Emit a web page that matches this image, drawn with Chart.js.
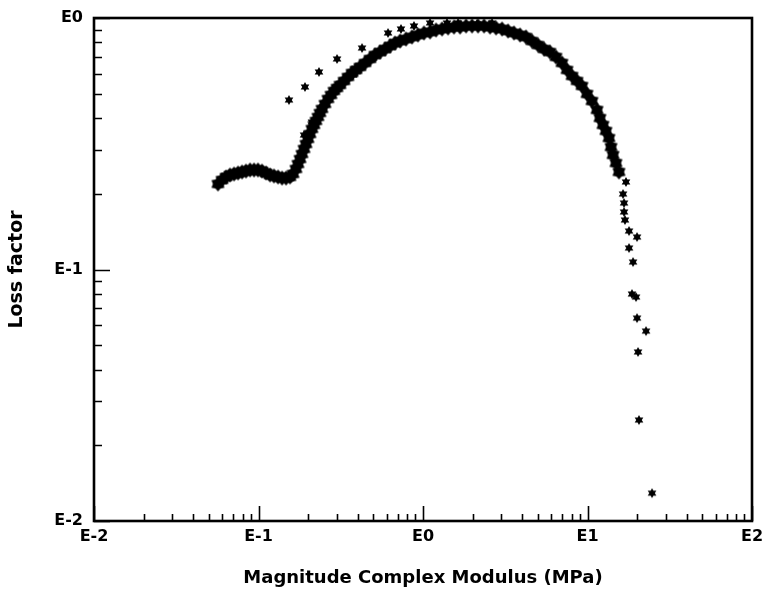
<!DOCTYPE html>
<html>
<head>
<meta charset="utf-8">
<script src="https://cdn.jsdelivr.net/npm/chart.js@4/dist/chart.umd.min.js"></script>
<style>
  html, body { margin: 0; padding: 0; background: #fff; }
  #wrap { width: 762px; height: 590px; }
</style>
</head>
<body>
<div id="wrap"><canvas id="lossChart" width="762" height="590"></canvas></div>
<script>
// Magnitude of complex modulus (MPa) vs loss factor
const mainModulus = [
  0.0567, 0.0600, 0.0635, 0.0671, 0.0710, 0.0751, 0.0794, 0.0839, 0.0888, 0.0939,
  0.0993, 0.1050, 0.1111, 0.1175, 0.1242, 0.1314, 0.1390, 0.1470, 0.1554, 0.1621,
  0.1690, 0.1738, 0.1788, 0.1838, 0.1891, 0.1944, 0.1999, 0.2056, 0.2114, 0.2174,
  0.2236, 0.2299, 0.2365, 0.2432, 0.2536, 0.2645, 0.2758, 0.2877, 0.3001, 0.3129,
  0.3310, 0.3500, 0.3702, 0.3915, 0.4140, 0.4441, 0.4762, 0.5107, 0.5476, 0.5875,
  0.6301, 0.6757, 0.7248, 0.7882, 0.8570, 0.9324, 1.014, 1.103, 1.200, 1.305,
  1.419, 1.543, 1.679, 1.826, 1.986, 2.160, 2.349, 2.555, 2.779, 3.022,
  3.287, 3.574, 3.888, 4.228, 4.598, 5.002, 5.440, 5.916, 6.434, 6.998,
  7.506, 8.051, 8.636, 9.258, 9.931, 10.65, 11.43, 11.91, 12.42, 12.95,
  13.51, 13.90, 14.29, 14.90, 15.54
];
const mainLoss = [
  0.2188, 0.2270, 0.2333, 0.2376, 0.2398, 0.2420, 0.2442, 0.2464, 0.2487, 0.2487,
  0.2487, 0.2464, 0.2420, 0.2376, 0.2354, 0.2333, 0.2311, 0.2311, 0.2333, 0.2398,
  0.2510, 0.2627, 0.2750, 0.2879, 0.3014, 0.3155, 0.3303, 0.3457, 0.3620, 0.3755,
  0.3895, 0.4041, 0.4192, 0.4349, 0.4551, 0.4765, 0.4943, 0.5127, 0.5269, 0.5417,
  0.5619, 0.5828, 0.6045, 0.6213, 0.6387, 0.6625, 0.6871, 0.7127, 0.7325, 0.7529,
  0.7739, 0.7954, 0.8100, 0.8250, 0.8404, 0.8560, 0.8718, 0.8798, 0.8961, 0.9044,
  0.9126, 0.9209, 0.9209, 0.9294, 0.9294, 0.9294, 0.9294, 0.9209, 0.9126, 0.9044,
  0.8878, 0.8718, 0.8560, 0.8404, 0.8100, 0.7809, 0.7529, 0.7325, 0.6998, 0.6625,
  0.6213, 0.5881, 0.5619, 0.5367, 0.4988, 0.4677, 0.4309, 0.4003, 0.3755, 0.3554,
  0.3333, 0.3069, 0.2853, 0.2651, 0.2442
];
// scattered points at the high-modulus end
const tailModulus = [17.14, 16.44, 16.67, 16.67, 16.90, 17.88, 20.0, 17.88, 18.91, 18.64, 19.72, 20.0, 22.68, 20.28, 20.56, 24.67];
const tailLoss = [0.2228, 0.1996, 0.1838, 0.1693, 0.1573, 0.1422, 0.1346, 0.1217, 0.1071, 0.0799, 0.0777, 0.0641, 0.0569, 0.0470, 0.0252, 0.0129];
// upper sparse branch
const upperModulus = [0.1532, 0.1917, 0.2332, 0.3001, 0.4258, 0.6127, 0.7349, 0.8816, 1.103, 1.399, 1.633, 2.130, 2.627];
const upperLoss = [0.4720, 0.5318, 0.6101, 0.6871, 0.7598, 0.8718, 0.9044, 0.9294, 0.9553, 0.9553, 0.9553, 0.9465, 0.9553];
// stray points on the edge of the main band
const edgeModulus = [0.1891, 0.2114, 0.2467, 0.2958, 0.3754, 0.4967];
const edgeLoss = [0.3425, 0.3859, 0.4429, 0.5221, 0.5935, 0.6934];

const xDecades = [0.01, 0.1, 1, 10, 100];
const xDecadeLabels = ['E-2', 'E-1', 'E0', 'E1', 'E2'];
const yDecades = [0.01, 0.1, 1];
const yDecadeLabels = ['E-2', 'E-1', 'E0'];

function pairs(xs, ys) {
  return xs.map((v, i) => ({ x: v, y: ys[i] }));
}

// six pointed filled star, like the plotter asterisk
function starImage(r, inner) {
  const c = document.createElement('canvas');
  const s = Math.ceil(r * 2 + 2);
  c.width = s; c.height = s;
  const g = c.getContext('2d');
  g.translate(s / 2, s / 2);
  g.beginPath();
  for (let i = 0; i < 12; i++) {
    const rad = i % 2 ? r * inner : r;
    const a = i * Math.PI / 6 - Math.PI / 2;
    const px = Math.cos(a) * rad, py = Math.sin(a) * rad;
    if (i === 0) g.moveTo(px, py); else g.lineTo(px, py);
  }
  g.closePath();
  g.fillStyle = '#000';
  g.fill();
  return c;
}
const bigStar = starImage(7.5, 0.68);
const star = starImage(5, 0.55);

function decadeTicks(decades) {
  const out = [];
  decades.forEach((d, i) => {
    out.push({ value: d, major: true });
    if (i < decades.length - 1) {
      for (let m = 2; m <= 9; m++) out.push({ value: d * m, major: false });
    }
  });
  return out;
}

function labelFor(decades, labels) {
  return function (value) {
    const i = decades.findIndex(d => Math.abs(d - value) / d < 1e-6);
    return i >= 0 ? labels[i] : '';
  };
}

// frame and inward tick marks
const plotFrame = {
  id: 'plotFrame',
  afterDraw(chart) {
    const { ctx, chartArea: a, scales } = chart;
    ctx.save();
    ctx.strokeStyle = '#000';
    ctx.lineWidth = 1.6;
    ctx.beginPath();
    scales.x.ticks.forEach(t => {
      const px = Math.round(scales.x.getPixelForValue(t.value)) + 0.5;
      const len = t.major ? 15 : 7;
      ctx.moveTo(px, a.bottom);
      ctx.lineTo(px, a.bottom - len);
    });
    scales.y.ticks.forEach(t => {
      const py = Math.round(scales.y.getPixelForValue(t.value)) + 0.5;
      const len = t.major ? 16 : 8;
      ctx.moveTo(a.left, py);
      ctx.lineTo(a.left + len, py);
    });
    ctx.stroke();
    ctx.lineWidth = 2.6;
    ctx.strokeRect(a.left, a.top, a.right - a.left, a.bottom - a.top);
    ctx.restore();
  }
};

const fontFam = '"DejaVu Sans", sans-serif';

new Chart(document.getElementById('lossChart'), {
  type: 'scatter',
  data: {
    datasets: [
      { data: pairs(mainModulus, mainLoss), pointStyle: bigStar },
      { data: pairs(edgeModulus, edgeLoss), pointStyle: star },
      { data: pairs(upperModulus, upperLoss), pointStyle: star },
      { data: pairs(tailModulus, tailLoss), pointStyle: star }
    ]
  },
  options: {
    responsive: false,
    animation: false,
    events: [],
    layout: { padding: { top: 18, right: 0, left: 0, bottom: 0 } },
    plugins: { legend: { display: false }, tooltip: { enabled: false } },
    scales: {
      x: {
        type: 'logarithmic',
        min: 0.01,
        max: 100,
        afterBuildTicks: s => { s.ticks = decadeTicks(xDecades); },
        afterFit: s => { s.height = 69; s.paddingLeft = 0; s.paddingRight = 10; },
        grid: { drawOnChartArea: false, drawTicks: false },
        border: { display: false },
        ticks: {
          autoSkip: false, maxRotation: 0, padding: 6,
          color: '#000', font: { family: fontFam, size: 16, weight: 'bold' },
          callback: labelFor(xDecades, xDecadeLabels)
        },
        title: {
          display: true, text: 'Magnitude Complex Modulus (MPa)', color: '#000',
          font: { family: fontFam, size: 18, weight: 'bold' },
          padding: { top: 0, bottom: 1 }
        }
      },
      y: {
        type: 'logarithmic',
        min: 0.01,
        max: 1,
        afterBuildTicks: s => { s.ticks = decadeTicks(yDecades); },
        afterFit: s => { s.width = 94; s.paddingTop = 0; s.paddingBottom = 0; },
        grid: { drawOnChartArea: false, drawTicks: false },
        border: { display: false },
        ticks: {
          autoSkip: false, padding: 11,
          color: '#000', font: { family: fontFam, size: 16, weight: 'bold' },
          callback: labelFor(yDecades, yDecadeLabels)
        },
        title: {
          display: true, text: 'Loss factor', color: '#000',
          font: { family: fontFam, size: 19, weight: 'bold' },
          padding: { top: 6, bottom: 0 }
        }
      }
    }
  },
  plugins: [plotFrame]
});
</script>
</body>
</html>
